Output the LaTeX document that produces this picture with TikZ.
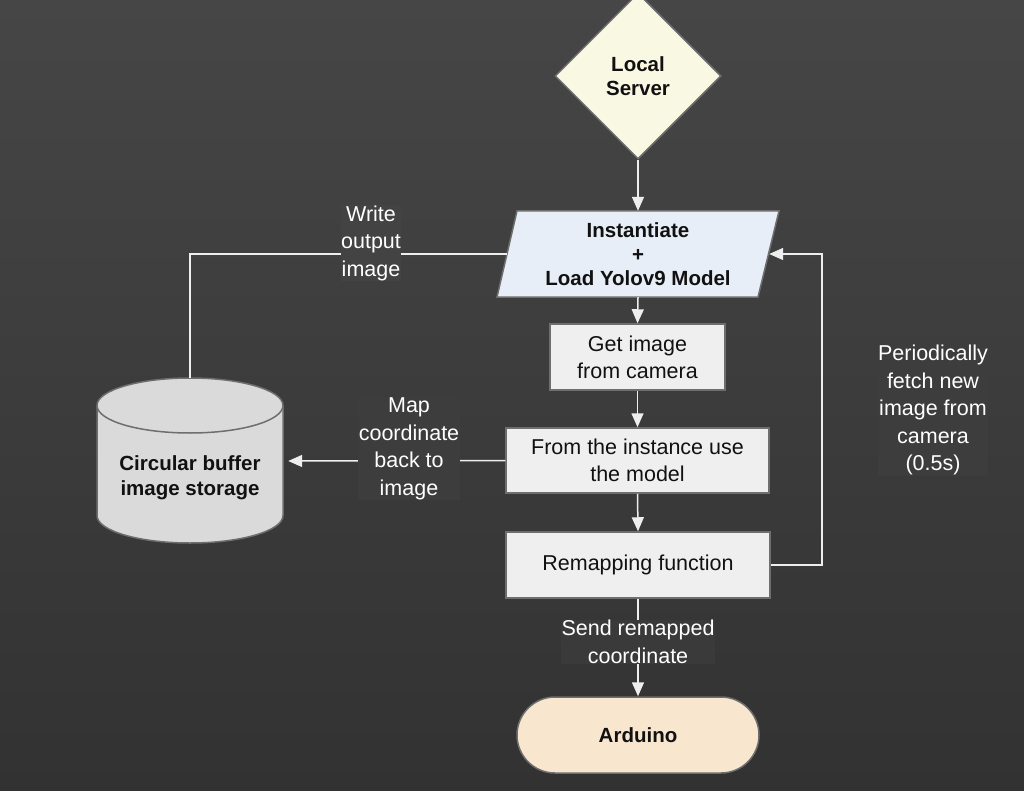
\documentclass[tikz,border=0pt]{standalone}
\usepackage{fontspec}
\setmainfont{Liberation Sans}
\usetikzlibrary{arrows.meta,shapes.geometric}
\definecolor{bgtop}{HTML}{464646}
\definecolor{bgbot}{HTML}{323232}
\definecolor{bord}{HTML}{6E6E6E}
\definecolor{ylw}{HTML}{F9F9E3}
\definecolor{blu}{HTML}{E8EEF7}
\definecolor{boxf}{HTML}{EFEFEF}
\definecolor{cylf}{HTML}{DADADA}
\definecolor{ardf}{HTML}{F9E6CF}
\definecolor{lnc}{HTML}{EEEEEE}
\definecolor{txt}{HTML}{111111}
\begin{document}
\begin{tikzpicture}[x=1pt,y=-1pt,
  shp/.style={draw=bord,line width=1.5pt,text=txt,align=center,inner sep=0pt},
  box/.style={shp,fill=boxf,font=\fontsize{21.5}{27}\selectfont},
  bnode/.style={text=txt,align=center,inner sep=0pt,font=\bfseries\fontsize{20.5}{24}\selectfont},
  diam/.style={shp,diamond,fill=ylw,font=\bfseries\fontsize{20.5}{24}\selectfont},
  term/.style={shp,fill=ardf,rounded corners=38pt,font=\bfseries\fontsize{20.5}{24}\selectfont},
  conn/.style={draw=lnc,line width=1.5pt},
  arr/.style={conn,-{Triangle[length=14pt,width=12pt]}},
  lbl/.style={text=white,align=center,inner sep=0.5pt,font=\fontsize{21.5}{27.5}\selectfont}
]
\useasboundingbox (0,0) rectangle (1024,791);
\shade[top color=bgtop,bottom color=bgbot] (0,0) rectangle (1024,791);

% Local server
\node[diam,minimum width=166pt,minimum height=166pt] (ls) at (638,76) {Local\\Server};

% parallelogram
\path[draw=bord,line width=1.5pt,fill=blu] (497,297) -- (517,211) -- (779,211) -- (758,297) -- cycle;
\node[bnode,minimum width=262pt,minimum height=86pt] (pl) at (638,254) {Instantiate\\+\\Load Yolov9 Model};

% boxes
\node[box,minimum width=175pt,minimum height=66pt] (gi) at (637.5,357) {Get image\\from camera};
\node[box,minimum width=263pt,minimum height=65pt] (ti) at (637.5,460.5) {From the instance use\\the model};
\node[box,minimum width=264pt,minimum height=66pt] (rf) at (638,565) {Remapping function};
\node[term,minimum width=242pt,minimum height=76pt] (ard) at (638,735) {Arduino};

% cylinder
\path[draw=bord,line width=1.5pt,fill=cylf] (97,405.5) -- (97,515.5)
  arc[start angle=180,end angle=0,x radius=93,y radius=27.5] -- (283,405.5)
  arc[start angle=0,end angle=-180,x radius=93,y radius=27.5] -- cycle;
\draw[draw=bord,line width=1.5pt] (97,405.5) arc[start angle=180,end angle=0,x radius=93,y radius=27.5];
\node[minimum width=196pt,minimum height=166pt,inner sep=0pt] (cyl) at (190,461) {};
\node[bnode,font=\bfseries\fontsize{20.5}{25}\selectfont] (cylt) at (190,478) {Circular buffer\\image storage};

% connectors
\draw[arr] (ls.south) -- (pl.north);
\draw[arr] (pl.south) -- (gi.north);
\draw[arr] (gi.south) -- (ti.north);
\draw[arr] (ti.south) -- (rf.north);
\draw[arr] (rf.south) -- (ard.north);
\draw[conn] (pl.west) -| (cyl.north);
\draw[arr] (ti.west) -- (cyl.east);
\coordinate (lp) at (822,565);
\draw[arr] (rf.east) -- (lp) |- (pl.east);

% labels
\node[lbl,fill=bgtop!85!bgbot] (wl) at (371,243) {Write\\output\\image};
\node[lbl,fill=bgtop!55!bgbot] (ml) at (409,449) {Map\\coordinate\\back to\\image};
\node[lbl,fill=bgtop!38!bgbot] (sl) at (638,642) {Send remapped\\coordinate};
\node[lbl,fill=bgtop!55!bgbot] (pf) at (933,410) {Periodically\\fetch new\\image from\\camera\\(0.5s)};
\end{tikzpicture}
\end{document}
